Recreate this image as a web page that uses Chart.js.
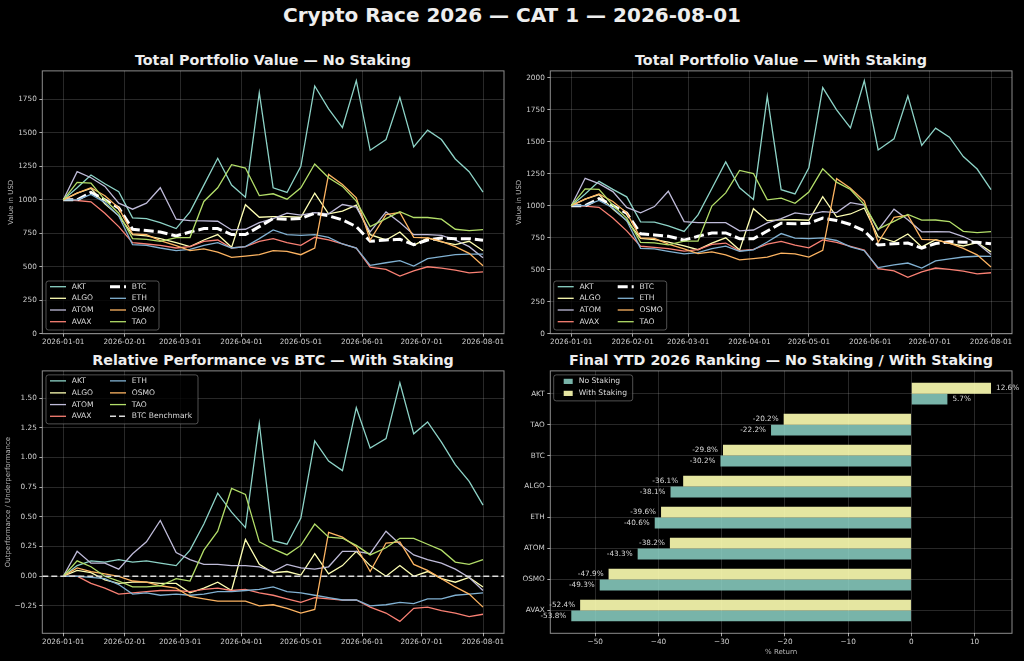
<!DOCTYPE html>
<html>
<head>
<meta charset="utf-8">
<script src="https://cdn.jsdelivr.net/npm/chart.js@4.4.1/dist/chart.umd.min.js"></script>
<style>
  body { margin: 0; background: #000; width: 1024px; height: 661px; overflow: hidden; position: relative; font-family: 'DejaVu Sans', sans-serif; }
  .ttl { position: absolute; color: #eeeeee; font-weight: bold; text-align: center; white-space: nowrap; }
  canvas { position: absolute; }
</style>
</head>
<body>
<div class="ttl" style="left:0;width:1024px;top:2px;font-size:20px;line-height:26px">Crypto Race 2026 — CAT 1 — 2026-08-01</div>
<div class="ttl" style="left:42px;width:462px;top:50px;font-size:14.3px;line-height:20px">Total Portfolio Value — No Staking</div>
<div class="ttl" style="left:550px;width:462px;top:50px;font-size:14.3px;line-height:20px">Total Portfolio Value — With Staking</div>
<div class="ttl" style="left:42px;width:462px;top:350px;font-size:14.3px;line-height:20px">Relative Performance vs BTC — With Staking</div>
<div class="ttl" style="left:550px;width:462px;top:350px;font-size:14.3px;line-height:20px">Final YTD 2026 Ranking — No Staking / With Staking</div>

<canvas id="tl" width="512" height="290" style="left:0;top:64px"></canvas>
<canvas id="tr" width="512" height="290" style="left:512px;top:64px"></canvas>
<canvas id="bl" width="512" height="297" style="left:0;top:364px"></canvas>
<canvas id="br" width="512" height="297" style="left:512px;top:364px"></canvas>

<script>
// sample dates (roughly weekly, Jan 1 -> Aug 1)
const dates = ['2026-01-01','2026-01-08','2026-01-15','2026-01-22','2026-01-29','2026-02-05','2026-02-12','2026-02-19',
  '2026-02-27','2026-03-06','2026-03-13','2026-03-20','2026-03-27','2026-04-03','2026-04-10','2026-04-17','2026-04-24',
  '2026-05-01','2026-05-08','2026-05-15','2026-05-22','2026-05-29','2026-06-05','2026-06-13','2026-06-20','2026-06-27',
  '2026-07-04','2026-07-11','2026-07-18','2026-07-25','2026-08-01'];
const monthTicks = ['2026-01-01','2026-02-01','2026-03-01','2026-04-01','2026-05-01','2026-06-01','2026-07-01','2026-08-01'];
const valueTicks = [0, 250, 500, 750, 1000, 1250, 1500, 1750, 2000];
const relTicks = [-0.25, 0, 0.25, 0.5, 0.75, 1, 1.25, 1.5];
const retTicks = [-50, -40, -30, -20, -10, 0, 10];

// portfolio value, no staking
const aktNo  = [1000,1090,1185,1120,1060,865,860,830,785,910,1110,1310,1110,1020,1800,1090,1055,1250,1850,1680,1540,1890,1370,1450,1765,1395,1520,1450,1305,1210,1057];
const algoNo = [1000,1050,1085,970,880,740,730,710,680,650,700,740,645,963,870,875,875,870,1050,895,915,960,740,700,760,660,715,685,665,690,619];
const atomNo = [1000,1210,1165,1100,975,930,975,1090,855,845,842,840,775,780,830,860,900,885,905,895,965,945,760,910,830,740,740,735,700,650,567];
const avaxNo = [1000,995,985,900,800,680,670,660,640,650,690,700,640,650,690,710,680,660,720,700,670,640,497,480,430,470,500,490,475,455,462];
const btcNo  = [1000,1000,1055,1000,940,780,770,760,730,760,785,785,740,740,800,860,855,860,900,880,850,800,690,700,705,665,700,715,710,710,698];
const ethNo  = [1000,1000,1040,980,880,665,660,640,620,630,660,680,640,650,710,775,740,735,740,720,670,640,510,530,545,505,560,575,590,595,594];
const osmoNo = [1000,1050,1090,1030,940,745,740,695,657,620,633,610,570,580,590,620,615,590,640,1190,1115,1015,700,890,905,720,715,690,650,600,507];
const taoNo  = [1000,1130,1125,1000,900,710,705,690,718,718,988,1090,1262,1237,1032,1045,1005,1090,1268,1165,1100,990,800,860,912,868,868,855,780,770,778];

// portfolio value, with staking
const aktSt  = [1000,1092,1190,1127,1069,874,871,843,799,928,1134,1341,1139,1049,1855,1125,1092,1296,1922,1749,1607,1976,1435,1522,1857,1471,1606,1535,1384,1286,1126];
const algoSt = [1000,1051,1087,973,884,744,735,715,686,656,707,749,653,976,883,889,890,886,1070,913,935,982,757,717,779,678,735,705,685,711,639];
const atomSt = [1000,1214,1172,1110,987,944,993,1113,876,868,867,868,803,810,865,899,943,930,954,946,1023,1005,810,973,890,796,798,795,759,707,618];
const avaxSt = [1000,996,987,903,803,683,674,665,645,656,697,708,648,658,700,721,691,671,733,713,683,653,508,491,440,482,513,503,488,468,476];
const btcSt  = [1000,1000,1055,1001,941,781,771,761,731,761,787,787,742,742,802,863,858,863,903,884,853,803,693,703,708,668,704,719,714,714,702];
const ethSt  = [1000,1001,1041,982,882,667,662,643,623,633,664,684,644,655,716,782,747,742,748,728,678,648,516,537,552,512,568,584,599,605,604];
const osmoSt = [1000,1051,1092,1033,944,748,744,700,662,625,639,616,576,587,598,629,624,599,651,1211,1136,1035,714,909,925,737,733,708,667,616,521];
const taoSt  = [1000,1131,1127,1003,903,713,709,694,723,724,997,1100,1275,1251,1045,1059,1019,1106,1288,1184,1126,1008,817,877,931,887,888,876,799,789,798];

// relative performance vs BTC (with staking)
const aktRel  = [0,0.09,0.13,0.12,0.14,0.12,0.13,0.11,0.09,0.22,0.44,0.70,0.54,0.41,1.29,0.30,0.27,0.49,1.14,0.97,0.89,1.42,1.08,1.16,1.63,1.20,1.30,1.13,0.94,0.80,0.60];
const algoRel = [0,0.05,0.03,-0.03,-0.06,-0.05,-0.05,-0.06,-0.06,-0.14,-0.10,-0.05,-0.12,0.31,0.10,0.03,0.04,0.01,0.19,0.02,0.09,0.21,0.09,0.00,0.09,0.00,0.04,-0.02,-0.05,-0.01,-0.09];
const atomRel = [0,0.21,0.11,0.11,0.06,0.19,0.29,0.47,0.20,0.14,0.10,0.10,0.09,0.09,0.08,0.04,0.10,0.07,0.06,0.08,0.21,0.21,0.19,0.38,0.27,0.18,0.14,0.11,0.06,-0.01,-0.12];
const avaxRel = [0,0.00,-0.06,-0.10,-0.15,-0.14,-0.13,-0.12,-0.12,-0.13,-0.11,-0.10,-0.12,-0.11,-0.14,-0.16,-0.19,-0.22,-0.18,-0.19,-0.20,-0.20,-0.26,-0.31,-0.38,-0.27,-0.26,-0.29,-0.31,-0.34,-0.32];
const ethRel  = [0,0.00,-0.01,-0.02,-0.07,-0.15,-0.14,-0.16,-0.15,-0.16,-0.15,-0.13,-0.13,-0.12,-0.11,-0.09,-0.13,-0.14,-0.16,-0.18,-0.20,-0.20,-0.25,-0.24,-0.22,-0.23,-0.19,-0.19,-0.16,-0.15,-0.14];
const osmoRel = [0,0.07,0.04,0.02,0.00,-0.04,-0.05,-0.08,-0.10,-0.17,-0.19,-0.21,-0.21,-0.21,-0.25,-0.24,-0.27,-0.31,-0.28,0.37,0.33,0.25,0.04,0.28,0.29,0.10,0.05,-0.02,-0.09,-0.15,-0.26];
const taoRel  = [0,0.13,0.08,0.00,-0.04,-0.09,-0.09,-0.08,-0.02,-0.04,0.22,0.38,0.74,0.69,0.29,0.23,0.18,0.26,0.44,0.33,0.32,0.26,0.18,0.24,0.32,0.32,0.27,0.22,0.12,0.10,0.14];
const btcBench = 0;

// final YTD ranking (% return)
const rankCoins = ['AKT','TAO','BTC','ALGO','ETH','ATOM','OSMO','AVAX'];
const retNo = [5.7,-22.2,-30.2,-38.1,-40.6,-43.3,-49.3,-53.8];
const retSt = [12.6,-20.2,-29.8,-36.1,-39.6,-38.2,-47.9,-52.4];

// ---- styling ----
const FONT = "'DejaVu Sans', sans-serif";
const TXT = '#cfcfcf';
const GRID = 'rgba(255,255,255,0.2)';
const SPINE = 'rgba(255,255,255,0.55)';
const COL = { AKT:'#8dd3c7', ALGO:'#feffb3', ATOM:'#bfbbd9', AVAX:'#fa8174', BTC:'#ffffff', ETH:'#81b1d2', OSMO:'#fdb462', TAO:'#b3de69' };
const TEAL = 'rgba(141,211,199,0.85)';
const YEL = 'rgba(254,255,179,0.9)';

const DAY = 86400000;
const t0 = Date.parse(dates[0]);
const toDay = d => (Date.parse(d) - t0) / DAY;
const xs = dates.map(toDay);
const monthDays = monthTicks.map(toDay);
const xSpan = xs[xs.length - 1] - xs[0];
const xMin = xs[0] - 0.05 * xSpan, xMax = xs[xs.length - 1] + 0.05 * xSpan;

const pts = vals => vals.map((v, i) => ({ x: xs[i], y: v }));

function lineSet(label, vals, i, n) {
  const btc = label === 'BTC';
  return {
    label, data: pts(vals), borderColor: COL[label], borderWidth: btc ? 3 : 1.3,
    borderDash: btc ? [10, 4] : [], pointRadius: 0, tension: 0, order: n - i, fill: false
  };
}

function dataLim(arrs) {
  const all = arrs.flat();
  const lo = Math.min(...all), hi = Math.max(...all);
  return [lo - 0.05 * (hi - lo), hi + 0.05 * (hi - lo)];
}

const fixTicks = list => s => { s.ticks = list.filter(v => v >= s.min && v <= s.max).map(v => ({ value: v })); };

function xScale(h) {
  return {
    type: 'linear', min: xMin, max: xMax,
    afterBuildTicks: s => { s.ticks = monthDays.map(v => ({ value: v })); },
    afterFit: s => { s.height = h; },
    ticks: { autoSkip: false, maxRotation: 0, color: TXT, font: { family: FONT, size: 7.3 }, padding: 1,
      callback: (v, i) => monthTicks[i] },
    grid: { color: GRID, tickColor: TXT, tickLength: 3, lineWidth: 0.8 },
    border: { display: false }
  };
}

function yScale(min, max, list, w, fmt, title, pad) {
  return {
    type: 'linear', min, max,
    afterBuildTicks: fixTicks(list),
    afterFit: s => { s.width = w; },
    ticks: { autoSkip: false, color: TXT, font: { family: FONT, size: 7.3 }, padding: 2.5, callback: fmt },
    grid: { color: GRID, tickColor: TXT, tickLength: 3, lineWidth: 0.8 },
    border: { display: false },
    title: { display: !!title, text: title, color: '#b8b8b8', font: { family: FONT, size: 7 }, padding: { top: pad, bottom: 0 } }
  };
}

const minus = s => s.replace('-', '\u2212');

// legend boxes (matplotlib style, drawn inside the axes)
const legendCfg = {
  tl: { dx: 3.7, dy: 3.7, bottom: true, w: 113, h: 49, rows: 4, rowY: [5.7, 17.3, 29, 40.7], colX: [4, 64], textDx: 21.7 },
  tr: { dx: 3.4, dy: 3.7, bottom: true, w: 113, h: 49, rows: 4, rowY: [5.7, 17.3, 29, 40.7], colX: [4, 64], textDx: 21.7 },
  bl: { dx: 3.7, dy: 4, bottom: false, w: 152, h: 49, rows: 4, rowY: [6, 18, 29.7, 41.4], colX: [4, 64], textDx: 21.7 },
  br: { dx: 3.4, dy: 4, bottom: false, w: 79, h: 26, rows: 2, rowY: [6.5, 18.5], colX: [10], textDx: 15,
        items: [{ label: 'No Staking', color: TEAL, patch: true }, { label: 'With Staking', color: YEL, patch: true }] }
};

function drawLegend(chart, cfg) {
  const { ctx, chartArea: a } = chart;
  const items = cfg.items || chart.data.datasets.map(d => ({ label: d.label, color: d.borderColor, width: d.borderWidth, dash: d.borderDash }));
  const x0 = a.left + cfg.dx;
  const y0 = cfg.bottom ? a.bottom - cfg.dy - cfg.h : a.top + cfg.dy;
  ctx.save();
  ctx.beginPath();
  ctx.roundRect(x0, y0, cfg.w, cfg.h, 2.5);
  ctx.fillStyle = 'rgba(0,0,0,0.8)';
  ctx.fill();
  ctx.strokeStyle = 'rgba(200,200,200,0.5)';
  ctx.lineWidth = 0.8;
  ctx.stroke();
  ctx.font = '7.6px ' + FONT;
  ctx.textBaseline = 'middle';
  items.forEach((it, i) => {
    const col = Math.floor(i / cfg.rows), row = i % cfg.rows;
    const cx = x0 + cfg.colX[col], cy = y0 + cfg.rowY[row];
    if (it.patch) {
      ctx.fillStyle = it.color;
      ctx.fillRect(cx, cy - 2.6, 9, 5.2);
    } else {
      ctx.beginPath();
      ctx.setLineDash(it.dash || []);
      ctx.strokeStyle = it.color;
      ctx.lineWidth = it.width;
      ctx.moveTo(cx, cy);
      ctx.lineTo(cx + 16, cy);
      ctx.stroke();
      ctx.setLineDash([]);
    }
    ctx.fillStyle = '#dcdcdc';
    ctx.fillText(it.label, cx + cfg.textDx, cy);
  });
  ctx.restore();
}

function drawBarLabels(chart) {
  const { ctx } = chart;
  ctx.save();
  ctx.font = '7.3px ' + FONT;
  ctx.fillStyle = '#d8d8d8';
  ctx.textBaseline = 'middle';
  chart.data.datasets.forEach((ds, di) => {
    chart.getDatasetMeta(di).data.forEach((bar, i) => {
      const v = ds.data[i].x;
      const txt = v.toFixed(1) + '%';
      if (v >= 0) { ctx.textAlign = 'left'; ctx.fillText(txt, bar.x + 5, bar.y); }
      else { ctx.textAlign = 'right'; ctx.fillText(txt, bar.x - 5, bar.y); }
    });
  });
  ctx.restore();
}

Chart.register({
  id: 'mplDecor',
  afterDraw(chart) {
    const { ctx, chartArea: a } = chart;
    ctx.save();
    ctx.strokeStyle = SPINE;
    ctx.lineWidth = 1;
    ctx.strokeRect(a.left, a.top, a.right - a.left, a.bottom - a.top);
    ctx.restore();
    if (chart.canvas.id === 'br') drawBarLabels(chart);
    drawLegend(chart, legendCfg[chart.canvas.id]);
  }
});

const base = {
  responsive: false, animation: false, events: [],
  plugins: { legend: { display: false }, tooltip: { enabled: false } }
};

const coinOrder = ['AKT', 'ALGO', 'ATOM', 'AVAX', 'BTC', 'ETH', 'OSMO', 'TAO'];
const intFmt = v => String(v);

// ---- top left: no staking ----
const noVals = [aktNo, algoNo, atomNo, avaxNo, btcNo, ethNo, osmoNo, taoNo];
new Chart(document.getElementById('tl'), {
  type: 'line',
  data: { datasets: coinOrder.map((c, i) => lineSet(c, noVals[i], i, 8)) },
  options: { ...base, layout: { padding: { left: 0, right: 8, top: 5.3, bottom: 0 } },
    scales: { x: xScale(20.3), y: yScale(0, dataLim(noVals)[1], valueTicks, 42.3, intFmt, 'Value in USD', 7) } }
});

// ---- top right: with staking ----
const stVals = [aktSt, algoSt, atomSt, avaxSt, btcSt, ethSt, osmoSt, taoSt];
new Chart(document.getElementById('tr'), {
  type: 'line',
  data: { datasets: coinOrder.map((c, i) => lineSet(c, stVals[i], i, 8)) },
  options: { ...base, layout: { padding: { left: 0, right: 12, top: 5.3, bottom: 0 } },
    scales: { x: xScale(20.3), y: yScale(0, dataLim(stVals)[1], valueTicks, 38.3, intFmt, 'Value in USD', 3) } }
});

// ---- bottom left: relative performance ----
const relNames = ['AKT', 'ALGO', 'ATOM', 'AVAX', 'ETH', 'OSMO', 'TAO'];
const relVals = [aktRel, algoRel, atomRel, avaxRel, ethRel, osmoRel, taoRel];
const relLim = dataLim(relVals);
const relSets = relNames.map((c, i) => lineSet(c, relVals[i], i, 8));
relSets.push({ label: 'BTC Benchmark', data: [{ x: xMin, y: btcBench }, { x: xMax, y: btcBench }],
  borderColor: '#dddddd', borderWidth: 1.6, borderDash: [6, 3], pointRadius: 0, order: 0 });
new Chart(document.getElementById('bl'), {
  type: 'line',
  data: { datasets: relSets },
  options: { ...base, layout: { padding: { left: 0, right: 8, top: 5.3, bottom: 0 } },
    scales: { x: xScale(27.7), y: yScale(relLim[0], relLim[1], relTicks, 42.3, v => minus(v.toFixed(2)), 'Outperformance / Underperformance', 4) } }
});

// ---- bottom right: final ranking ----
const allRet = retNo.concat(retSt, [0]);
const rLo = Math.min(...allRet), rHi = Math.max(...allRet);
const barH = 0.35, nCat = rankCoins.length;
const yPad = 0.05 * (nCat - 1 + 2 * barH);
new Chart(document.getElementById('br'), {
  type: 'bar',
  data: { datasets: [
    { label: 'With Staking', data: rankCoins.map((c, i) => ({ x: retSt[i], y: i })), backgroundColor: YEL },
    { label: 'No Staking', data: rankCoins.map((c, i) => ({ x: retNo[i], y: i })), backgroundColor: TEAL }
  ] },
  options: { ...base, indexAxis: 'y', categoryPercentage: 2 * barH, barPercentage: 1,
    layout: { padding: { left: 0, right: 12, top: 5.3, bottom: 0 } },
    scales: {
      x: { type: 'linear', min: rLo - 0.05 * (rHi - rLo), max: rHi + 0.05 * (rHi - rLo),
        afterBuildTicks: fixTicks(retTicks),
        afterFit: s => { s.height = 27.7; },
        ticks: { autoSkip: false, color: TXT, font: { family: FONT, size: 7.3 }, padding: 1,
          callback: v => minus(String(v)) },
        grid: { color: GRID, tickColor: TXT, tickLength: 3, lineWidth: 0.8 },
        border: { display: false },
        title: { display: true, text: '% Return', color: '#b8b8b8', font: { family: FONT, size: 7 }, padding: { top: 0, bottom: 5 } } },
      y: { type: 'linear', min: -barH - yPad, max: nCat - 1 + barH + yPad, reverse: true, offset: false,
        afterBuildTicks: s => { s.ticks = rankCoins.map((c, i) => ({ value: i })); },
        afterFit: s => { s.width = 38.3; },
        ticks: { autoSkip: false, color: TXT, font: { family: FONT, size: 7.3 }, padding: 2.5, callback: (v, i) => rankCoins[i] },
        grid: { offset: false, color: GRID, tickColor: TXT, tickLength: 3, lineWidth: 0.8 },
        border: { display: false } }
    } }
});
</script>
</body>
</html>
